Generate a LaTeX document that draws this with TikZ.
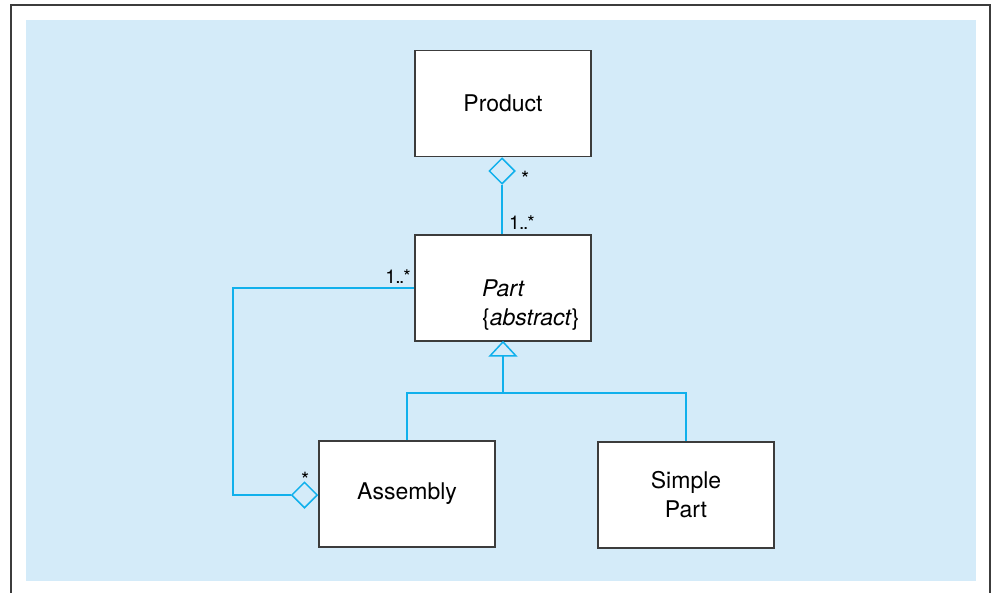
\documentclass[tikz,border=0pt]{standalone}
\usepackage{fontspec}
\setmainfont{TeX Gyre Heros}
\usetikzlibrary{shapes.geometric}
\definecolor{bgblue}{RGB}{212,235,249}
\definecolor{lineblue}{RGB}{16,176,236}
\definecolor{framegray}{RGB}{60,60,60}
\newcommand{\mymult}{1\kern-0.6pt.\kern-1.4pt.\kern-1pt*}
\tikzset{
  cls/.style={draw=framegray, line width=1.8pt, fill=white, minimum width=176pt,
    minimum height=106pt, inner sep=0pt, font=\fontsize{23}{29}\selectfont, align=center},
  assoc/.style={draw=lineblue, line width=1.8pt},
  agg/.style={diamond, draw=lineblue, line width=1.5pt, fill=bgblue,
    minimum width=26pt, minimum height=26pt, inner sep=0pt},
  mult/.style={font=\fontsize{19}{19}\selectfont, inner sep=0pt},
  star/.style={font=\fontsize{21}{21}\selectfont, inner sep=0pt}
}
\begin{document}
\begin{tikzpicture}[x=1pt,y=-1pt]
\useasboundingbox (0,0) rectangle (991,592);
\fill[bgblue] (26,20) rectangle (976,581);
\draw[framegray, line width=2pt] (11,600) -- (11,5) -- (990,5) -- (990,600);

\node[cls] (product) at (503,103.5) {Product};
\node[cls] (part) at (503,288) {};
\node[anchor=base west, inner sep=0pt, align=left, font=\fontsize{23}{29}\selectfont] (parttext) at (482,325) {\textit{Part}\\\{\textit{abstract}\}};
\node[cls] (assembly) at (407,494) {Assembly};
\node[cls] (simple) at (686,495) {Simple\\Part};

% aggregation Product <>-- Part
\node[agg] (d1) at (502,171) {};
\draw[assoc] (d1.south) -- (d1.south |- part.north);
\node[star, anchor=base west] (m1) at (521,186) {*};
\node[mult, anchor=base west] (m2) at (509,229) {\mymult};

% aggregation Assembly <>-- Part
\node[agg] (d2) at (304.5,495) {};
\coordinate (c1) at (233,288);
\draw[assoc] (part.west) -- (c1) |- (d2.west);
\node[mult, anchor=base east] (m3) at (411,283) {\mymult};
\node[star, anchor=base west] (m4) at (301,487) {*};

% generalization
\draw[assoc, line width=1.5pt, fill=bgblue] (part.south) -- ++(13,14) -- ++(-26,0) -- cycle;
\coordinate (tri) at (503,355);
\coordinate (jn) at (503,393);
\draw[assoc] (tri) -- (jn);
\draw[assoc] (assembly.north) |- (jn) -| (simple.north);
\end{tikzpicture}
\end{document}
